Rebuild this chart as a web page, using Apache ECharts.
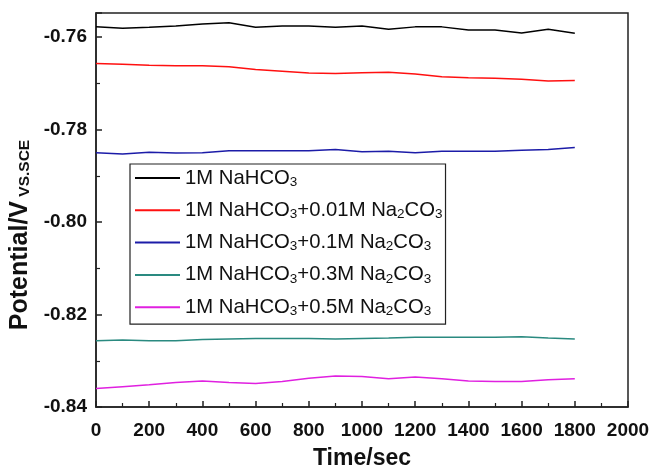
<!DOCTYPE html>
<html>
<head>
<meta charset="utf-8">
<script src="https://cdn.jsdelivr.net/npm/echarts@6/dist/echarts.min.js"></script>
<style>html,body{margin:0;padding:0;background:#fff;}#c{width:650px;height:472px;}</style>
</head>
<body>
<div id="c"></div>
<script>
const times = [0,100,200,300,400,500,600,700,800,900,1000,1100,1200,1300,1400,1500,1600,1700,1800];
const seriesNames = [
  '1M NaHCO3',
  '1M NaHCO3+0.01M Na2CO3',
  '1M NaHCO3+0.1M Na2CO3',
  '1M NaHCO3+0.3M Na2CO3',
  '1M NaHCO3+0.5M Na2CO3'
];
const black = [-0.7578,-0.7581,-0.7579,-0.7576,-0.7572,-0.7569,-0.7579,-0.7576,-0.7576,-0.7579,-0.7576,-0.7583,-0.7578,-0.7578,-0.7585,-0.7585,-0.7591,-0.7583,-0.7592];
const red = [-0.7657,-0.7659,-0.7661,-0.7662,-0.7662,-0.7664,-0.7670,-0.7674,-0.7678,-0.7679,-0.7677,-0.7676,-0.7680,-0.7686,-0.7688,-0.7689,-0.7691,-0.7695,-0.7694];
const blue = [-0.7850,-0.7853,-0.7849,-0.7851,-0.7850,-0.7846,-0.7846,-0.7846,-0.7846,-0.7843,-0.7848,-0.7847,-0.7850,-0.7847,-0.7847,-0.7847,-0.7845,-0.7843,-0.7839];
const teal = [-0.8257,-0.8255,-0.8257,-0.8257,-0.8254,-0.8253,-0.8252,-0.8252,-0.8252,-0.8253,-0.8252,-0.8251,-0.8249,-0.8249,-0.8249,-0.8249,-0.8248,-0.8251,-0.8253];
const magenta = [-0.8360,-0.8356,-0.8352,-0.8347,-0.8344,-0.8347,-0.8349,-0.8345,-0.8338,-0.8333,-0.8334,-0.8339,-0.8335,-0.8339,-0.8344,-0.8345,-0.8345,-0.8341,-0.8339];
const xTickLabels = ['0','200','400','600','800','1000','1200','1400','1600','1800','2000'];
const yTickLabels = ['-0.84','-0.82','-0.80','-0.78','-0.76'];
const colors = ['#000000','#ff1010','#1c1ca8','#2a8a80','#e020e0'];
const legendRich = [
  '{t|1M NaHCO}{s|3}',
  '{t|1M NaHCO}{s|3}{t|+0.01M Na}{s|2}{t|CO}{s|3}',
  '{t|1M NaHCO}{s|3}{t|+0.1M Na}{s|2}{t|CO}{s|3}',
  '{t|1M NaHCO}{s|3}{t|+0.3M Na}{s|2}{t|CO}{s|3}',
  '{t|1M NaHCO}{s|3}{t|+0.5M Na}{s|2}{t|CO}{s|3}'
];
const allValues = [black, red, blue, teal, magenta];

const font = 'Liberation Sans, Arial, sans-serif';
const chart = echarts.init(document.getElementById('c'));
chart.setOption({
  animation: false,
  backgroundColor: '#fff',
  grid: {left: 96, right: 22, top: 13, bottom: 65, show: true, borderColor: '#222', borderWidth: 1.5, backgroundColor: 'transparent', containLabel: false, outerBoundsMode: 'none'},
  legend: {
    orient: 'vertical', left: 130, top: 164,
    padding: [4, 3, 6, 5],
    borderColor: '#222', borderWidth: 1.2,
    itemGap: 11.3, itemWidth: 45, itemHeight: 2, icon: 'rect',
    data: seriesNames,
    formatter: name => legendRich[seriesNames.indexOf(name)],
    textStyle: {
      rich: {
        t: {fontFamily: font, fontSize: 20.3, color: '#111', lineHeight: 22},
        s: {fontFamily: font, fontSize: 13.5, color: '#111', lineHeight: 6, verticalAlign: 'bottom'}
      }
    }
  },
  xAxis: {
    type: 'value', min: 0, max: 2000, interval: 200,
    name: 'Time/sec', nameLocation: 'middle', nameGap: 40,
    nameTextStyle: {fontFamily: font, fontSize: 23, fontWeight: 'bold', color: '#111'},
    axisLine: {show: true, lineStyle: {color: '#222', width: 1.5}},
    axisTick: {show: true, inside: true, length: 6, lineStyle: {color: '#222', width: 1.5}},
    minorTick: {show: true, splitNumber: 2, length: 4, lineStyle: {color: '#222', width: 1.2}},
    splitLine: {show: false},
    axisLabel: {
      fontFamily: font, fontSize: 19, fontWeight: 'bold', color: '#111', margin: 14,
      formatter: v => xTickLabels[Math.round(v / 200)] || ''
    }
  },
  yAxis: {
    type: 'value', min: -0.84, max: -0.7548, interval: 0.02,
    name: '{a|Potential/V}{b| VS.SCE}', nameLocation: 'middle', nameGap: 59,
    nameTextStyle: {
      rich: {
        a: {fontFamily: font, fontSize: 25, fontWeight: 'bold', color: '#111', lineHeight: 26},
        b: {fontFamily: font, fontSize: 15.5, fontWeight: 'bold', color: '#111', lineHeight: 14, verticalAlign: 'bottom', padding: [0, 50, 0, 0]}
      }
    },
    axisLine: {show: true, lineStyle: {color: '#222', width: 1.5}},
    axisTick: {show: true, inside: true, length: 6, lineStyle: {color: '#222', width: 1.5}},
    minorTick: {show: true, splitNumber: 2, length: 4, lineStyle: {color: '#222', width: 1.2}},
    splitLine: {show: false},
    axisLabel: {
      fontFamily: font, fontSize: 19, fontWeight: 'bold', color: '#111', margin: 9,
      showMaxLabel: false,
      formatter: v => {
        const k = (v + 0.84) / 0.02;
        return Math.abs(k - Math.round(k)) < 1e-6 ? (yTickLabels[Math.round(k)] || '') : '';
      }
    }
  },
  series: seriesNames.map((n, i) => ({
    name: n, type: 'line', showSymbol: false, symbol: 'none',
    data: times.map((t, j) => [t, allValues[i][j]]),
    lineStyle: {color: colors[i], width: 1.5},
    itemStyle: {color: colors[i]}
  }))
});
</script>
</body>
</html>
